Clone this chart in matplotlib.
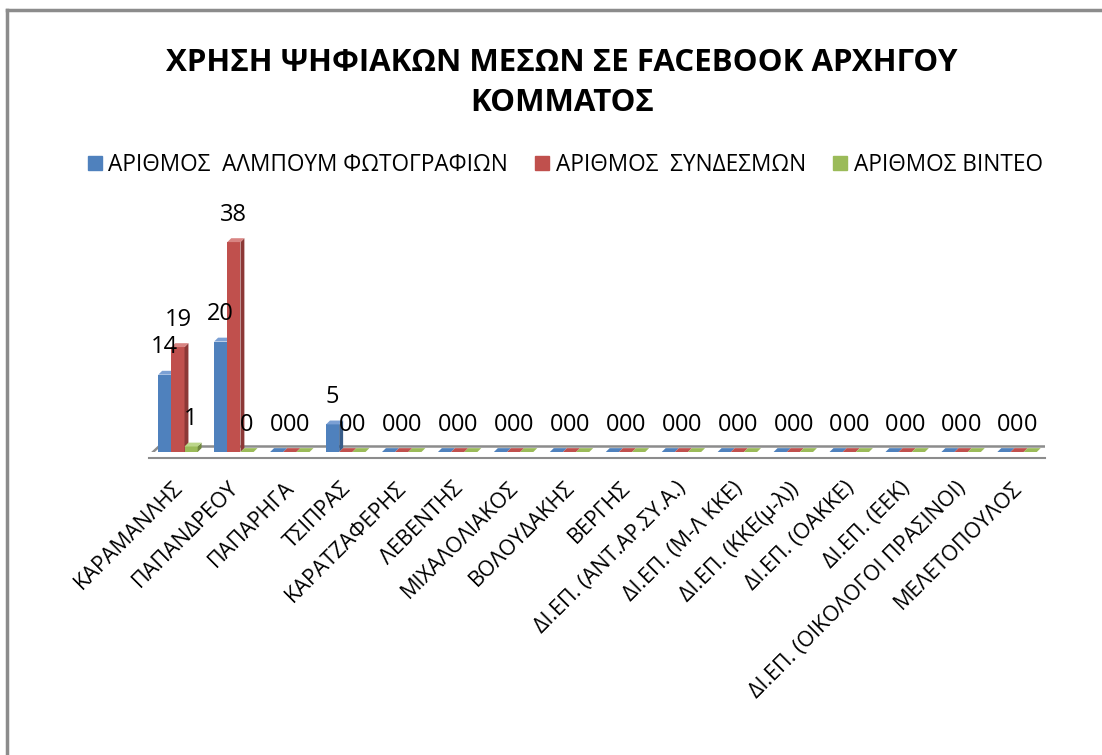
import numpy as np
import matplotlib
matplotlib.use("Agg")
import matplotlib.pyplot as plt
from matplotlib.patches import Polygon
from matplotlib.lines import Line2D

plt.rcParams['font.family'] = ['Open Sans', 'DejaVu Sans']

# data
leaders = ["ΚΑΡΑΜΑΝΛΗΣ", "ΠΑΠΑΝΔΡΕΟΥ", "ΠΑΠΑΡΗΓΑ", "ΤΣΙΠΡΑΣ", "ΚΑΡΑΤΖΑΦΕΡΗΣ",
           "ΛΕΒΕΝΤΗΣ", "ΜΙΧΑΛΟΛΙΑΚΟΣ", "ΒΟΛΟΥΔΑΚΗΣ", "ΒΕΡΓΗΣ",
           "ΔΙ.ΕΠ. (ΑΝΤ.ΑΡ.ΣΥ.Α.)", "ΔΙ.ΕΠ. (Μ-Λ ΚΚΕ)", "ΔΙ.ΕΠ. (ΚΚΕ(μ-λ))",
           "ΔΙ.ΕΠ. (ΟΑΚΚΕ)", "ΔΙ.ΕΠ. (ΕΕΚ)", "ΔΙ.ΕΠ. (ΟΙΚΟΛΟΓΟΙ ΠΡΑΣΙΝΟΙ)",
           "ΜΕΛΕΤΟΠΟΥΛΟΣ"]
albums = [14, 20, 0, 5, 0, 0, 0, 0, 0, 0, 0, 0, 0, 0, 0, 0]
links = [19, 38, 0, 0, 0, 0, 0, 0, 0, 0, 0, 0, 0, 0, 0, 0]
videos = [1, 0, 0, 0, 0, 0, 0, 0, 0, 0, 0, 0, 0, 0, 0, 0]
series_names = ["ΑΡΙΘΜΟΣ  ΑΛΜΠΟΥΜ ΦΩΤΟΓΡΑΦΙΩΝ", "ΑΡΙΘΜΟΣ  ΣΥΝΔΕΣΜΩΝ", "ΑΡΙΘΜΟΣ ΒΙΝΤΕΟ"]
colors = ["#4f81bd", "#c0504d", "#9bbb59"]
sides = ["#385d8a", "#8c3836", "#71893f"]
tops = ["#7ba0d4", "#d88482", "#bcd68a"]

fig = plt.figure(figsize=(11.02, 7.55), dpi=100)
ax = fig.add_axes([0.1361, 0.4013, 0.8122, 0.2927])
ax.set_xlim(-0.5, len(leaders) - 0.5)
ax.set_ylim(0, 40)
ax.axis('off')

# pseudo 3D depth in data units
ddx, ddy = 0.07, 0.7
w = 0.235
x = np.arange(len(leaders))

# floor slab
fx0, fx1 = -0.52, len(leaders) - 0.5
floor = Polygon([(fx0, -0.7), (fx1, -0.7), (fx1 + 0.18, 1.0), (fx0 + 0.18, 1.0)],
                closed=True, facecolor='white', edgecolor='#8c8c8c', lw=1.8, zorder=1)
ax.add_patch(floor)
ax.plot([fx0, fx1], [-1.1, -1.1], color='#8c8c8c', lw=1.5, zorder=1, clip_on=False)

for k, vals in enumerate([albums, links, videos]):
    xs = x + (k - 1) * w
    for xi, v in zip(xs, vals):
        l, r = xi - w / 2, xi + w / 2
        if v > 0:
            ax.add_patch(Polygon([(l, 0), (r, 0), (r, v), (l, v)], closed=True,
                                 facecolor=colors[k], edgecolor='none', zorder=3))
            ax.add_patch(Polygon([(r, 0), (r + ddx, ddy), (r + ddx, v + ddy), (r, v)], closed=True,
                                 facecolor=sides[k], edgecolor='none', zorder=3))
        ax.add_patch(Polygon([(l, v), (r, v), (r + ddx, v + ddy), (l + ddx, v + ddy)], closed=True,
                             facecolor=tops[k] if v > 0 else colors[k], edgecolor='none', zorder=3))
        ax.annotate(str(v), (xi, v), xytext=(0, 11), textcoords='offset points',
                    ha='center', va='bottom', fontsize=17, color='black', zorder=5,
                    annotation_clip=False)

# category labels
for xi, name in zip(x, leaders):
    ax.annotate(name, (xi - 0.1, -1.6), xytext=(0, -12), textcoords='offset points',
                rotation=45, ha='right', va='top', rotation_mode='anchor',
                fontsize=15.5, annotation_clip=False)

# title
fig.text(0.51, 0.937, "ΧΡΗΣΗ ΨΗΦΙΑΚΩΝ ΜΕΣΩΝ ΣΕ FACEBOOK ΑΡΧΗΓΟΥ\nΚΟΜΜΑΤΟΣ",
         ha='center', va='top', fontsize=22.5, fontweight='bold', linespacing=1.45)

# legend
handles = [Line2D([], [], marker='s', color=c, linestyle='none', markersize=10) for c in colors]
fig.legend(handles, series_names, loc='center', bbox_to_anchor=(0.513, 0.781), ncol=3,
           frameon=False, fontsize=16.3, handlelength=0.6, handletextpad=0.3, columnspacing=1.2)

# chart border (top and left only visible)
fig.add_artist(Line2D([0.0063, 0.0063], [0.0, 0.987], color='#8c8c8c', lw=2.5))
fig.add_artist(Line2D([0.0063, 1.0], [0.987, 0.987], color='#8c8c8c', lw=2.5))

fig.savefig("out.png", dpi=100)
